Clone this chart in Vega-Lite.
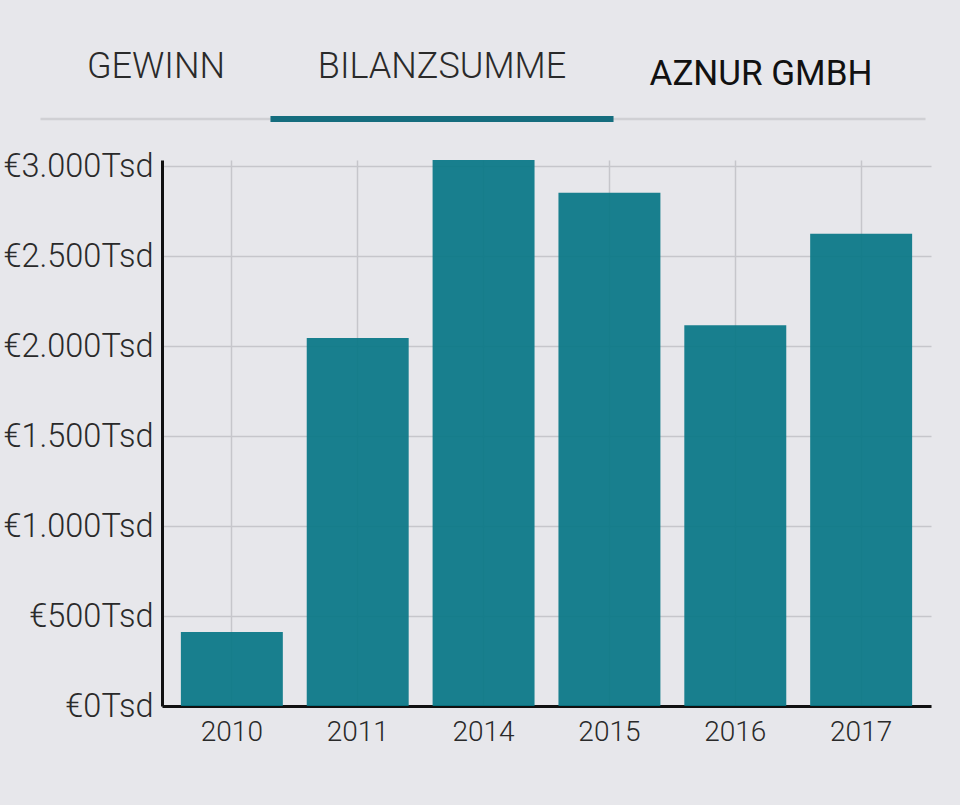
{
  "$schema": "https://vega.github.io/schema/vega-lite/v6.json",
  "background": "#e7e7eb",
  "padding": {"left": 2, "top": 48, "right": 28, "bottom": 59},
  "columns": 1,
  "spacing": 28,
  "config": {
    "view": {"stroke": null},
    "font": "Roboto",
    "axis": {"labelFont": "Roboto", "titleFont": "Roboto"}
  },
  "datasets": {
    "tabs": [
      {"tab": "GEWINN"},
      {"tab": "BILANZSUMME"},
      {"tab": "AZNUR GMBH"}
    ],
    "bilanz": [
      {"jahr": "2010", "bilanzsumme": 411},
      {"jahr": "2011", "bilanzsumme": 2046},
      {"jahr": "2014", "bilanzsumme": 3036},
      {"jahr": "2015", "bilanzsumme": 2854},
      {"jahr": "2016", "bilanzsumme": 2117},
      {"jahr": "2017", "bilanzsumme": 2626}
    ]
  },
  "concat": [
    {
      "data": {"name": "tabs"},
      "width": 763,
      "height": 6,
      "transform": [{"filter": "datum.tab === 'BILANZSUMME'"}],
      "mark": {"type": "bar", "width": {"band": 1.28}, "color": "#156d7e"},
      "encoding": {
        "x": {
          "field": "tab",
          "type": "nominal",
          "sort": null,
          "scale": {
            "domain": ["GEWINN", "BILANZSUMME", "AZNUR GMBH"],
            "range": [-122, 763],
            "paddingInner": 0,
            "paddingOuter": 0.1511,
            "align": 0
          },
          "axis": {
            "orient": "top",
            "title": null,
            "ticks": false,
            "tickSize": 0,
            "offset": -2.5,
            "domainColor": "#d0d0d4",
            "domainWidth": 2.5,
            "labelAngle": 0,
            "labelOverlap": false,
            "labelLimit": 0,
            "labelFlush": false,
            "labelBaseline": "alphabetic",
            "labelFontSize": {"condition": {"test": "datum.value === 'AZNUR GMBH'", "value": 35}, "value": 36},
            "labelFontWeight": {"condition": {"test": "datum.value === 'AZNUR GMBH'", "value": 400}, "value": 300},
            "labelColor": {"condition": {"test": "datum.value === 'AZNUR GMBH'", "value": "#111111"}, "value": "#2a2a2a"},
            "labelPadding": {"condition": {"test": "datum.value === 'AZNUR GMBH'", "value": 34}, "value": 41},
            "labelOffset": {
              "condition": [
                {"test": "datum.value === 'AZNUR GMBH'", "value": 51},
                {"test": "datum.value === 'GEWINN'", "value": -18}
              ],
              "value": 0
            }
          }
        }
      }
    },
    {
      "data": {"name": "bilanz"},
      "width": 769,
      "height": 546,
      "mark": {"type": "bar", "color": "#067686", "opacity": 0.92},
      "encoding": {
        "x": {
          "field": "jahr",
          "type": "nominal",
          "sort": null,
          "scale": {"paddingInner": 0.19, "paddingOuter": 0.15},
          "axis": {
            "title": null,
            "labelAngle": 0,
            "ticks": false,
            "grid": true,
            "bandPosition": 0.5,
            "domainColor": "#111111",
            "domainWidth": 3,
            "labelFontSize": 28,
            "labelFontWeight": 300,
            "labelColor": "#2a2a2a",
            "labelPadding": 12,
            "gridColor": "#c6c6cb",
            "gridWidth": 1.5
          }
        },
        "y": {
          "field": "bilanzsumme",
          "type": "quantitative",
          "scale": {"domain": [0, 3036], "nice": false},
          "axis": {
            "title": null,
            "values": [0, 500, 1000, 1500, 2000, 2500, 3000],
            "ticks": false,
            "domainColor": "#111111",
            "domainWidth": 3,
            "labelFontSize": 32.5,
            "labelFontWeight": 300,
            "labelColor": "#2a2a2a",
            "labelPadding": 9,
            "labelExpr": "'€' + replace(format(datum.value, ','), ',', '.') + 'Tsd'",
            "gridColor": "#c6c6cb",
            "gridWidth": 1.5
          }
        }
      }
    }
  ]
}
